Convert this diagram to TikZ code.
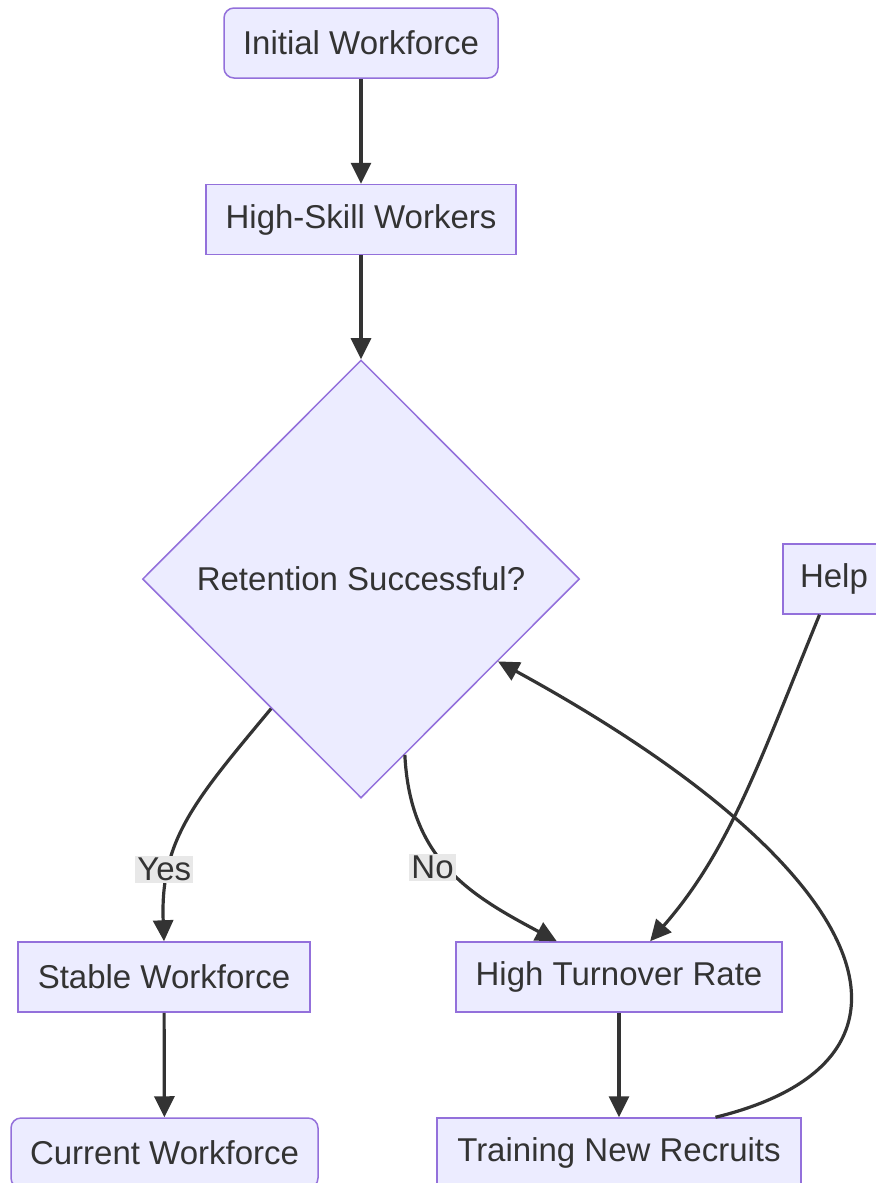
\documentclass[tikz,border=0pt]{standalone}
\usepackage{fontspec}
\setmainfont{Liberation Sans}
\usetikzlibrary{shapes.geometric,arrows.meta,calc}
\definecolor{boxfill}{HTML}{ECECFF}
\definecolor{boxline}{HTML}{9370DB}
\definecolor{ink}{HTML}{333333}
\definecolor{lblfill}{HTML}{E8E8E8}
\tikzset{
  box/.style={draw=boxline,fill=boxfill,line width=0.75pt,text=ink,minimum height=35pt,inner sep=0pt,font=\fontsize{16.5}{20}\selectfont},
  rbox/.style={box,rounded corners=5pt},
  decide/.style={box,diamond,minimum width=218.5pt,minimum height=219pt},
  flow/.style={draw=ink,line width=1.6pt,-{Triangle[length=10.5pt,width=10pt]}},
  lbl/.style={fill=lblfill,text=ink,inner sep=1pt,font=\fontsize{16.5}{20}\selectfont},
}
\begin{document}
\begin{tikzpicture}[x=0.5pt,y=-0.5pt]
  \useasboundingbox (0,0) rectangle (875,1183);
  \node[rbox,minimum width=137pt] (init) at (361,43) {Initial Workforce};
  \node[box,minimum width=155pt] (skill) at (361,219.5) {High-Skill Workers};
  \node[decide] (ret) at (361,579) {Retention Successful?};
  \node[box,minimum width=51pt] (help) at (834,579) {Help};
  \node[box,minimum width=146pt] (stable) at (164,977) {Stable Workforce};
  \node[box,minimum width=163pt] (turn) at (619,977) {High Turnover Rate};
  \node[rbox,minimum width=153.5pt] (curr) at (164.5,1153) {Current Workforce};
  \node[box,minimum width=182pt] (train) at (619,1153) {Training New Recruits};

  \draw[flow] (init) -- (skill);
  \draw[flow] (skill) -- (ret);
  \draw[flow] ($(ret.west)!0.59!(ret.south)$) .. controls (195,800) and (160,840) .. (stable.north)
    node[lbl,pos=0.68,xshift=-4pt,yshift=-5pt] {Yes};
  \draw[flow] ($(ret.south)!0.2!(ret.east)$) .. controls (410,860) and (470,895) .. ($(turn.north west)!0.31!(turn.north east)$)
    node[lbl,pos=0.45,xshift=-5pt,yshift=-3pt] {No};
  \draw[flow] ($(help.south west)!0.36!(help.south east)$) .. controls (760,760) and (730,850) .. ($(turn.north west)!0.595!(turn.north east)$);
  \draw[flow] ($(train.north west)!0.764!(train.north east)$) .. controls (950,1060) and (880,870) .. ($(ret.east)!0.375!(ret.south)$);
  \draw[flow] (turn) -- (train);
  \draw[flow] (stable) -- (curr);
\end{tikzpicture}
\end{document}
